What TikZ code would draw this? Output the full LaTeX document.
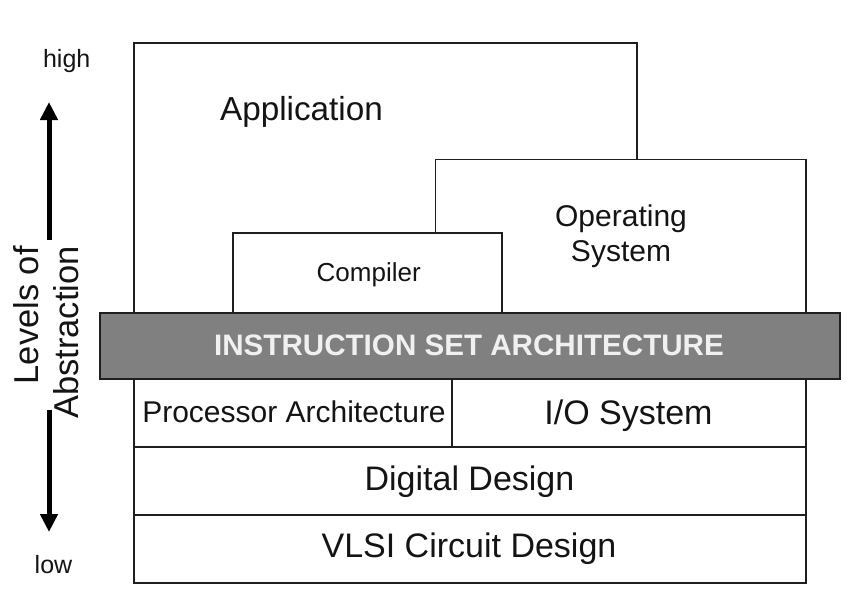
\documentclass[tikz,border=0pt]{standalone}
\usepackage{fontspec}
\setmainfont{Liberation Sans}
\usetikzlibrary{arrows.meta}
\begin{document}
\begin{tikzpicture}[x=1pt,y=-1pt,
  box/.style={draw=black!88,line width=1.5pt,fill=white,inner sep=0pt,outer sep=0pt},
  lbl/.style={inner sep=0pt,text=black!92},
  baselbl/.style={lbl,anchor=base},
  abarrow/.style={line width=5pt,-{Triangle[width=17pt,length=18pt]}}]
\useasboundingbox (0,0) rectangle (851,605);
% upper boxes
\node[box,minimum width=503pt,minimum height=270pt] (app) at (385.5,178) {};
\node[baselbl,font=\fontsize{33.3}{38}\selectfont] (applbl) at (301.5,120) {Application};
\node[box,minimum width=370.5pt,minimum height=153.5pt] (os) at (620.75,236.25) {};
\node[lbl,align=center,font=\fontsize{30}{35}\selectfont] (oslbl) at (621,236.5) {Operating\\System};
\node[box,minimum width=269pt,minimum height=80pt] (comp) at (367.5,273) {};
\node[baselbl,font=\fontsize{26}{30}\selectfont] (complbl) at (368.7,281) {Compiler};
% ISA bar
\node[box,fill=black!50,minimum width=740pt,minimum height=66pt] (isa) at (470,346) {};
\node[baselbl,text=white!94!black,font=\bfseries\fontsize{29.6}{34}\selectfont] (isalbl) at (469,355) {INSTRUCTION SET ARCHITECTURE};
% lower boxes
\node[box,minimum width=318pt,minimum height=68pt] (proc) at (293,413) {};
\node[baselbl,font=\fontsize{30}{34}\selectfont] (proclbl) at (294,422) {Processor Architecture};
\node[box,minimum width=354pt,minimum height=68pt] (io) at (629,413) {};
\node[baselbl,font=\fontsize{34}{38}\selectfont] (iolbl) at (628.5,424) {I/O System};
\node[box,minimum width=672pt,minimum height=68pt] (dig) at (470,481) {};
\node[baselbl,font=\fontsize{34}{38}\selectfont] (diglbl) at (469.5,490) {Digital Design};
\node[box,minimum width=672pt,minimum height=68pt] (vlsi) at (470,549) {};
\node[baselbl,font=\fontsize{34}{38}\selectfont] (vlsilbl) at (469,557) {VLSI Circuit Design};
% abstraction axis
\node[baselbl,font=\fontsize{25}{30}\selectfont] (high) at (66.7,67.3) {high};
\node[baselbl,font=\fontsize{25}{30}\selectfont] (low) at (53.5,573) {low};
\node[lbl,rotate=90,align=right,anchor=east,font=\fontsize{34.5}{40}\selectfont] (levels) at (46,246) {Levels of\\Abstraction};
\coordinate (upstart) at (49,240);
\coordinate (uptip) at (49,102);
\coordinate (downstart) at (49,410);
\coordinate (downtip) at (49,532);
\draw[abarrow] (upstart) -- (uptip);
\draw[abarrow] (downstart) -- (downtip);
\end{tikzpicture}
\end{document}
